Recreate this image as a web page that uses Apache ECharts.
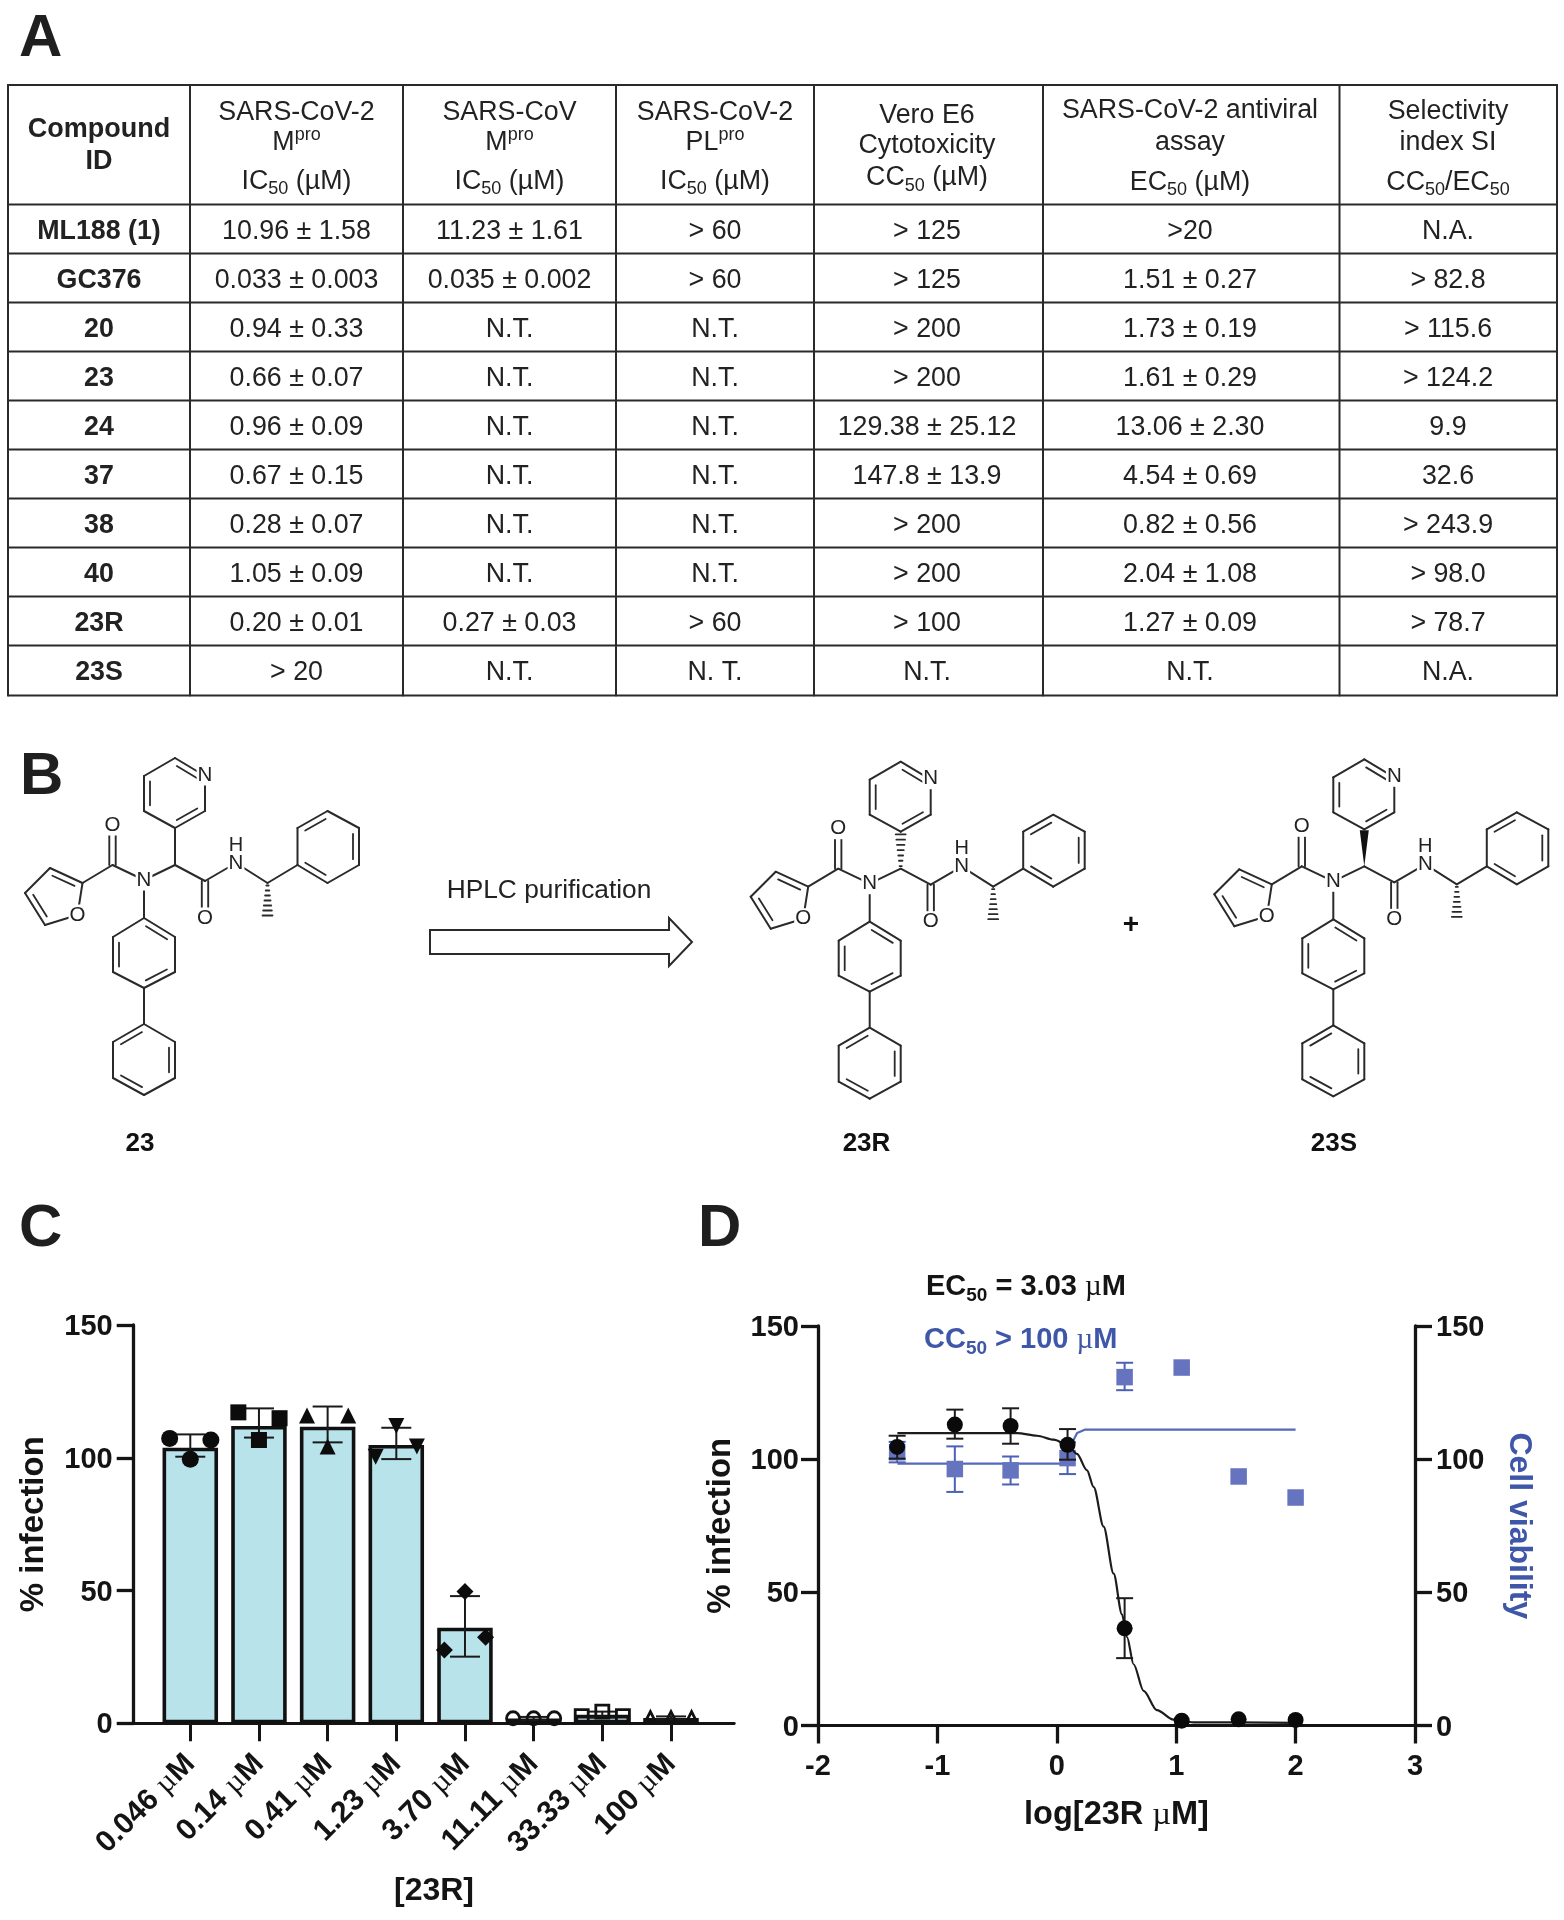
<!DOCTYPE html>
<html><head><meta charset="utf-8">
<style>html,body{margin:0;padding:0;background:#fff}#c{width:1564px;height:1920px}</style>
<script src="https://cdn.jsdelivr.net/npm/echarts@6/dist/echarts.min.js"></script>
</head><body><div id="c"></div>
<script>
// ---------- Table data (panel A) ----------
const compoundIds = ['ML188 (1)','GC376','20','23','24','37','38','40','23R','23S'];
const mproCov2 = ['10.96 ± 1.58','0.033 ± 0.003','0.94 ± 0.33','0.66 ± 0.07','0.96 ± 0.09','0.67 ± 0.15','0.28 ± 0.07','1.05 ± 0.09','0.20 ± 0.01','> 20'];
const mproCov = ['11.23 ± 1.61','0.035 ± 0.002','N.T.','N.T.','N.T.','N.T.','N.T.','N.T.','0.27 ± 0.03','N.T.'];
const plproCov2 = ['> 60','> 60','N.T.','N.T.','N.T.','N.T.','N.T.','N.T.','> 60','N. T.'];
const veroCC50 = ['> 125','> 125','> 200','> 200','129.38 ± 25.12','147.8 ± 13.9','> 200','> 200','> 100','N.T.'];
const antiviralEC50 = ['>20','1.51 ± 0.27','1.73 ± 0.19','1.61 ± 0.29','13.06 ± 2.30','4.54 ± 0.69','0.82 ± 0.56','2.04 ± 1.08','1.27 ± 0.09','N.T.'];
const selectivity = ['N.A.','> 82.8','> 115.6','> 124.2','9.9','32.6','> 243.9','> 98.0','> 78.7','N.A.'];
const tableColumns = [compoundIds, mproCov2, mproCov, plproCov2, veroCC50, antiviralEC50, selectivity];

// ---------- Panel C data ----------
const doseLabels = ['0.046 µM','0.14 µM','0.41 µM','1.23 µM','3.70 µM','11.11 µM','33.33 µM','100 µM'];
const barMeans = [103.8,112,111.7,104.8,36,1.8,3.2,2];
const barErrHigh = [108.8,118.6,119.3,111.3,47.9,2.4,4.4,2.6];
const barErrLow = [100.4,107.6,105.8,99.5,25.1,1.2,2.2,1.5];
const rep1 = [107.3,117.1,115.9,100.4,27.6,1.9,2.7,2.3];
const rep2 = [99.4,106.7,104.2,112,49.6,1.9,4.4,2.3];
const rep3 = [106.7,114.9,115.9,104.2,32.4,1.9,2.7,2.3];

// ---------- Panel D data ----------
const logDose = [-1.337,-0.854,-0.387,0.09,0.568,1.046,1.523,2];
const infection = [104.6,113,112.5,105.4,36.5,1.8,2.3,2.1];
const infectionHigh = [108.8,118.6,119.1,111.3,47.8,null,null,null];
const infectionLow = [100.2,107.7,105.8,99.8,25.3,null,null,null];
const viability = [102.6,96.3,95.8,100.4,130.8,134.4,93.5,85.6];
const viabilityHigh = [106.5,104.8,101,106.3,136.2,null,null,null];
const viabilityLow = [98.8,87.7,90.5,94.4,125.9,null,null,null];
const infectionCurve = [[-1.335,109.8],[-0.332,109.8],[-0.165,108.8],[-0.026,107.3],[0.089,105.4],[0.169,102],[0.253,95.8],[0.309,89.5],[0.392,74.7],[0.476,57],[0.546,41.7],[0.588,33.2],[0.643,23],[0.727,13],[0.838,5.8],[0.978,2.2],[1.145,1.2],[2,1]];
const viabilityCurve = [[-1.335,98.3],[0.1,98.3],[0.125,102],[0.1416,107.3],[0.17,109.8],[0.239,111.1],[2,111.1]];

// ---------- Styles ----------
const SANS = '"Liberation Sans", Arial, sans-serif';
const INK = '#141414', LINE = '#2a2a2a', BLUE = '#3f57a8', BLUE_MARK = '#6674bf', BLUE_LINE = '#5568bb', BAR = '#b8e3ea';

// ---------- Graphic helpers ----------
const g = [];
function line(x1,y1,x2,y2,w,col){ g.push({type:'line',silent:true,z:1,shape:{x1,y1,x2,y2},style:{stroke:col||LINE,lineWidth:w||2,lineCap:'round'}}); }
function text(str,x,y,size,opt){ opt=opt||{}; g.push({type:'text',silent:true,z:opt.z||3,style:Object.assign({text:str,x,y,fontFamily:SANS,fontSize:size,fontWeight:opt.w||'normal',fill:opt.col||'#222',align:opt.align||'center',verticalAlign:'middle'},opt.extra||{})}); }
function richText(str,x,y,size,opt){
  opt=opt||{}; const w=opt.w||'normal', col=opt.col||'#222', lh=Math.round(size*1.26), sm=Math.round(size*0.66);
  text(str,x,y,size,{w,col,align:opt.align,extra:{rich:{
    a:{fontFamily:SANS,fontSize:size,fontWeight:w,fill:col,lineHeight:lh},
    s:{fontFamily:SANS,fontSize:sm,fontWeight:w,fill:col,lineHeight:lh,verticalAlign:'bottom'},
    p:{fontFamily:SANS,fontSize:sm,fontWeight:w,fill:col,lineHeight:lh,verticalAlign:'top'},
    m:{fontFamily:'"Liberation Serif", serif',fontSize:size,fontWeight:'normal',fill:col,lineHeight:lh}
  }}});
}

// ---------- Panel A ----------
const colEdges = [8,190,403,616,814,1043,1339.5,1557];
const colCentres = [99,296.5,509.5,715,927,1190,1448];
const rowEdges = [85,204.5,253.5,302.5,351.5,400.5,449.5,498.5,547.5,596.5,645.5,695.5];
colEdges.forEach(x=>line(x,rowEdges[0],x,rowEdges[11],2));
rowEdges.forEach(y=>line(colEdges[0],y,colEdges[7],y,2));
const FS = 26.8;
tableColumns.forEach((col,c)=>col.forEach((v,r)=>text(v,colCentres[c],(rowEdges[r+1]+rowEdges[r+2])/2+2.2,FS,{w:c===0?'bold':'normal'})));
text('Compound',99,130,27,{w:'bold'}); text('ID',99,161.5,27,{w:'bold'});
[[296.5,'SARS-CoV-2'],[509.5,'SARS-CoV'],[715,'SARS-CoV-2']].forEach(([x,t])=>text(t,x,112.5,FS));
richText('{a|M}{p|pro}',296.5,143,FS); richText('{a|M}{p|pro}',509.5,143,FS); richText('{a|PL}{p|pro}',715,143,FS);
[296.5,509.5,715].forEach(x=>richText('{a|IC}{s|50}{a| (µM)}',x,181.5,FS));
text('Vero E6',927,116,FS); text('Cytotoxicity',927,146,FS); richText('{a|CC}{s|50}{a| (µM)}',927,178,FS);
text('SARS-CoV-2 antiviral',1190,111,FS); text('assay',1190,142.5,FS); richText('{a|EC}{s|50}{a| (µM)}',1190,182.5,FS);
text('Selectivity',1448,112,FS); text('index SI',1448,142.5,FS); richText('{a|CC}{s|50}{a|/EC}{s|50}',1448,182.5,FS);

// ---------- Panel letters ----------
[['A',19,39],['B',20,777],['C',19,1229],['D',698,1229]].forEach(([t,x,y])=>text(t,x,y,60,{w:'bold',align:'left',col:'#1f1f1f'}));

// ---------- Panel B: molecule skeleton (drawing coordinates of compound 23) ----------
const atoms = {
  p0:[175,758],p1:[205,776],p2:[205,811],p3:[175,828],p4:[144,811],p5:[144,776],
  ca:[175,865],n:[144,880],co1:[112.5,865],o1:[112.5,827],
  f2:[82.5,883],f3:[50,868],f4:[25,893],f5:[45,925],fo:[77.5,915],
  co2:[205,881],o2:[205,915],nh:[236,863],cb:[267.5,883],me:[267.5,918],
  h0:[297.5,865],h1:[297.5,828],h2:[327.5,811],h3:[359,828],h4:[359,865],h5:[327.5,883],
  a0:[144,918],a1:[175,937],a2:[175,972],a3:[144,988],a4:[113,972],a5:[113,937],
  b0:[144,1024],b1:[175,1042],b2:[175,1078],b3:[144,1095],b4:[113,1078],b5:[113,1042]
};
const centres = {py:[175,793],ph:[328,847],ar:[144,955],br:[144,1060],fu:[56,895]};
const singleBonds = [['p1','p2'],['p3','p4'],['p5','p0'],['ca','n'],['n','co1'],['co1','f2'],['f3','f4'],['f5','fo'],['fo','f2'],['ca','co2'],['co2','nh'],['nh','cb'],['cb','h0'],['h0','h1'],['h2','h3'],['h4','h5'],['n','a0'],['a1','a2'],['a3','a4'],['a5','a0'],['a3','b0'],['b0','b1'],['b2','b3'],['b4','b5']];
const ringDoubles = [['p0','p1','py'],['p2','p3','py'],['p4','p5','py'],['h1','h2','ph'],['h3','h4','ph'],['h5','h0','ph'],['a0','a1','ar'],['a2','a3','ar'],['a4','a5','ar'],['b5','b0','br'],['b1','b2','br'],['b3','b4','br'],['f2','f3','fu'],['f4','f5','fu']];
const exoDoubles = [['co1','o1'],['co2','o2']];
function hash(a,b,n,maxW){ for(let i=0;i<n;i++){ const t=(i+0.5)/n, x=a[0]+(b[0]-a[0])*t, y=a[1]+(b[1]-a[1])*t, hw=0.8+maxW*t/2, dx=b[0]-a[0], dy=b[1]-a[1], L=Math.hypot(dx,dy), nx=-dy/L, ny=dx/L; line(x-nx*hw,y-ny*hw,x+nx*hw,y+ny*hw,1.8); } }
function molecule(ox,oy,stereo,label,lx){
  const P=k=>[atoms[k][0]+ox,atoms[k][1]+oy];
  singleBonds.forEach(([a,b])=>{const A=P(a),B=P(b);line(A[0],A[1],B[0],B[1],2);});
  ringDoubles.forEach(([a,b,c])=>{const A=P(a),B=P(b);line(A[0],A[1],B[0],B[1],2);
    const C=[centres[c][0]+ox,centres[c][1]+oy], mx=(A[0]+B[0])/2,my=(A[1]+B[1])/2,d=Math.hypot(C[0]-mx,C[1]-my),ux=(C[0]-mx)/d,uy=(C[1]-my)/d;
    const off=6,s=0.16;
    line(A[0]+(B[0]-A[0])*s+ux*off,A[1]+(B[1]-A[1])*s+uy*off,B[0]-(B[0]-A[0])*s+ux*off,B[1]-(B[1]-A[1])*s+uy*off,1.8);});
  exoDoubles.forEach(([a,b])=>{const A=P(a),B=P(b);line(A[0]-3.2,A[1],B[0]-3.2,B[1],1.9);line(A[0]+3.2,A[1],B[0]+3.2,B[1],1.9);});
  const p3=P('p3'),ca=P('ca');
  if(stereo==='plain') line(p3[0],p3[1],ca[0],ca[1],2);
  if(stereo==='hash') hash(ca,p3,7,9);
  if(stereo==='wedge') g.push({type:'polygon',silent:true,z:1,shape:{points:[[ca[0],ca[1]],[p3[0]-4.5,p3[1]+1],[p3[0]+4.5,p3[1]+1]]},style:{fill:'#111'}});
  hash(P('cb'),P('me'),7,9);
  [['N','p1',0,-1],['N','n',0,0],['O','o1',0,-2],['O','fo',0,0],['O','o2',0,3],['N','nh',0,0]].forEach(([t,k,dx,dy])=>{const A=P(k);
    text(t,A[0]+dx,A[1]+dy,20.5,{col:'#222',extra:{backgroundColor:'#fff',padding:[0,1,0,1]}});});
  const nh=P('nh'); text('H',nh[0],nh[1]-18,20,{col:'#222'});
  text(label,lx,1144,26,{w:'bold',col:'#111'});
}
molecule(0,0,'plain','23',140);
molecule(725.7,3.7,'hash','23R',866.5);
molecule(1189.3,1.3,'wedge','23S',1334);
text('+',1131,925,28,{w:'bold',col:'#111'});
text('HPLC purification',549,891,26.3);
g.push({type:'polygon',silent:true,z:1,shape:{points:[[430,930],[669,930],[669,918],[692,942],[669,966],[669,954],[430,954]]},style:{fill:'#fff',stroke:LINE,lineWidth:2}});

// ---------- Panel D annotation ----------
richText('{a|EC}{s|50}{a| = 3.03 }{m|µ}{a|M}',926,1287,29,{w:'bold',align:'left',col:'#141414'});
richText('{a|CC}{s|50}{a| > 100 }{m|µ}{a|M}',924,1340,29,{w:'bold',align:'left',col:BLUE});

// ---------- Axis helpers ----------
const axisText = {fontFamily:SANS,fontWeight:'bold',fontSize:29,color:INK};
const richMu = {
  b:{fontFamily:SANS,fontWeight:'bold',fontSize:30,color:INK},
  m:{fontFamily:'"Liberation Serif", serif',fontWeight:'normal',fontSize:30,color:INK}
};
function muFormat(s){ const [l,r]=s.split('µ'); return '{b|'+l+'}{m|µ}{b|'+r+'}'; }
function yAxis(gridIndex,pos,name,nameCol,gap,margin,nameSize){
  return {gridIndex,type:'value',position:pos,min:0,max:150,interval:50,splitLine:{show:false},
    axisLine:{show:true,onZero:false,lineStyle:{color:INK,width:3.3}},
    axisTick:{show:true,length:17,lineStyle:{color:INK,width:3.3}},
    axisLabel:{margin,formatter:v=>'{v|'+v+'}',rich:{v:Object.assign({padding:[4,0,0,0]},axisText)}},
    name,nameLocation:'middle',nameGap:gap,nameRotate:pos==='left'?90:-90,
    nameTextStyle:{fontFamily:SANS,fontWeight:'bold',fontSize:nameSize,color:nameCol}};
}
const capLine = (x1,y,x2,col,w)=>({type:'line',shape:{x1,y1:y,x2,y2:y},style:{stroke:col,lineWidth:w}});
function errorRender(capHalf,col,w){
  return function(params,api){
    const hi=api.value(1),lo=api.value(2);
    if(hi==null||lo==null||isNaN(hi)||isNaN(lo)) return null;
    const a=api.coord([api.value(0),hi]),b=api.coord([api.value(0),lo]);
    return {type:'group',children:[
      {type:'line',shape:{x1:a[0],y1:a[1],x2:b[0],y2:b[1]},style:{stroke:col,lineWidth:w}},
      capLine(a[0]-capHalf,a[1],a[0]+capHalf,col,w),capLine(b[0]-capHalf,b[1],b[0]+capHalf,col,w)]};
  };
}
const idx = doseLabels.map((_,i)=>i);
const spread = [-0.3,0,0.3];
const reps = [rep1,rep2,rep3];
const symbols = [['circle',17,0,1],['rect',16,0,1],['triangle',16,0,1],['triangle',16,180,1],['diamond',17,0,1],['circle',13,0,0],['rect',13,0,0],['triangle',11,0,0]];
const doseScatter = doseLabels.map((d,i)=>({
  name:d,type:'scatter',xAxisIndex:0,yAxisIndex:0,z:5,clip:false,
  data:reps.map((r,k)=>[i+spread[k],r[i]]),
  symbol:symbols[i][0],symbolSize:symbols[i][1],symbolRotate:symbols[i][2],
  itemStyle:symbols[i][3]?{color:'#0c0c0c',opacity:1}:{color:'rgba(0,0,0,0)',borderColor:'#111',borderWidth:2.8,opacity:1}
}));

const option = {
  animation:false,backgroundColor:'#fff',
  graphic:{elements:g},
  grid:[
    {left:133.7,top:1325,width:600.6,height:398.3,containLabel:false},
    {left:818,top:1326,width:597,height:399.5,containLabel:false}
  ],
  xAxis:[
    {gridIndex:0,type:'value',min:-0.824,max:7.922,splitLine:{show:false},
     axisLine:{show:true,onZero:false,lineStyle:{color:INK,width:2.8}},
     axisTick:{show:true,length:18,lineStyle:{color:INK,width:3},customValues:idx},
     axisLabel:{customValues:idx,rotate:45,margin:36,formatter:v=>muFormat(doseLabels[v]),rich:richMu},
     name:'{n|[23R]}',nameLocation:'middle',nameGap:152,
     nameTextStyle:{rich:{n:{fontFamily:SANS,fontWeight:'bold',fontSize:32,color:INK}}}},
    {gridIndex:1,type:'value',min:-2,max:3,interval:1,splitLine:{show:false},
     axisLine:{show:true,onZero:false,lineStyle:{color:INK,width:2.8}},
     axisTick:{show:true,length:18,lineStyle:{color:INK,width:3.3}},
     axisLabel:Object.assign({margin:27},axisText),
     name:'{n|log[23R }{u|µ}{n|M]}',nameLocation:'middle',nameGap:73,
     nameTextStyle:{rich:{n:{fontFamily:SANS,fontWeight:'bold',fontSize:32.5,color:INK},u:{fontFamily:'"Liberation Serif", serif',fontSize:32.5,color:INK}}}}
  ],
  yAxis:[
    yAxis(0,'left','% infection',INK,83,21,33),
    yAxis(1,'left','% infection',INK,81,19,33),
    yAxis(1,'right','Cell viability',BLUE,88,21,32)
  ],
  series:[
    {name:'Mean infection',type:'bar',xAxisIndex:0,yAxisIndex:0,z:2,barWidth:55.5,
     data:barMeans.map((v,i)=>[i,v]),
     itemStyle:{color:BAR,borderColor:'#111',borderWidth:3.6}},
    {name:'SD',type:'custom',xAxisIndex:0,yAxisIndex:0,z:4,clip:false,
     encode:{x:0,y:[1,2]},renderItem:errorRender(15,'#1a1a1a',2),
     data:barMeans.map((_,i)=>[i,barErrHigh[i],barErrLow[i]])},
    ...doseScatter,
    {name:'Viability fit',type:'line',xAxisIndex:1,yAxisIndex:2,z:3,showSymbol:false,symbol:'none',smooth:false,
     data:viabilityCurve,lineStyle:{color:BLUE_LINE,width:2.2}},
    {name:'Viability SD',type:'custom',xAxisIndex:1,yAxisIndex:2,z:3,encode:{x:0,y:[1,2]},
     renderItem:errorRender(8.5,'#4c60b6',2),
     data:logDose.map((x,i)=>[x,viabilityHigh[i],viabilityLow[i]])},
    {name:'Cell viability',type:'scatter',xAxisIndex:1,yAxisIndex:2,z:4,clip:false,symbol:'rect',symbolSize:16.5,
     data:logDose.map((x,i)=>[x,viability[i]]),itemStyle:{color:BLUE_MARK,opacity:1}},
    {name:'Infection fit',type:'line',xAxisIndex:1,yAxisIndex:1,z:5,showSymbol:false,symbol:'none',smooth:0.3,smoothMonotone:'x',
     data:infectionCurve,lineStyle:{color:'#1c1c1c',width:2.2}},
    {name:'Infection SD',type:'custom',xAxisIndex:1,yAxisIndex:1,z:5,encode:{x:0,y:[1,2]},
     renderItem:errorRender(8.5,'#1c1c1c',2),
     data:logDose.map((x,i)=>[x,infectionHigh[i],infectionLow[i]])},
    {name:'Infection',type:'scatter',xAxisIndex:1,yAxisIndex:1,z:6,clip:false,symbol:'circle',symbolSize:16,
     data:logDose.map((x,i)=>[x,infection[i]]),itemStyle:{color:'#0a0a0a',opacity:1}}
  ]
};
const chart = echarts.init(document.getElementById('c'),null,{renderer:'canvas',width:1564,height:1920});
chart.setOption(option);
</script></body></html>
